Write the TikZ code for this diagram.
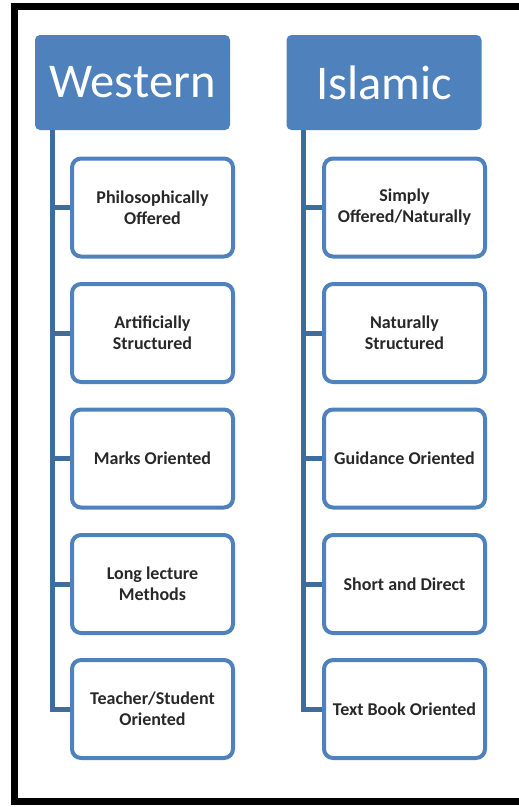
\documentclass[tikz,border=0pt]{standalone}
\usepackage{fontspec}
\setmainfont{Carlito}
\definecolor{hdrblue}{RGB}{79,129,189}
\definecolor{trunkblue}{RGB}{62,108,155}
\definecolor{itemtext}{RGB}{40,40,40}

\begin{document}
\begin{tikzpicture}[x=1pt,y=-1pt,
  header/.style={fill=hdrblue,rounded corners=5pt,minimum width=195pt,minimum height=95pt,
    text=white,font=\fontsize{48.5}{50}\selectfont},
  item/.style={draw=hdrblue,line width=4pt,fill=white,rounded corners=9pt,minimum width=161pt,
    minimum height=98pt,align=center,text=itemtext,font=\fontsize{18}{21}\selectfont\bfseries},
  trunk/.style={draw=trunkblue,line width=5pt}]
\useasboundingbox (0,0) rectangle (519,807);
% frame, open on the right
\draw[line width=7pt] (519,6.5) -- (14.5,6.5) -- (14.5,801.5) -- (519,801.5);

\node[header] (west) at (132.5,82.5) {Western};
\node[header] (isl) at (384,82.5) {Islamic};

\node[item] (w1) at (152.5,207.5) {Philosophically\\Offered};
\node[item] (w2) at (152.5,333) {Artificially\\Structured};
\node[item] (w3) at (152.5,458.5) {Marks Oriented};
\node[item] (w4) at (152.5,584) {Long lecture\\Methods};
\node[item] (w5) at (152.5,709) {Teacher/Student\\Oriented};

\node[item] (i1) at (404.5,207.5) {Simply\\Offered/Naturally};
\node[item] (i2) at (404.5,333) {Naturally\\Structured};
\node[item] (i3) at (404.5,458.5) {Guidance Oriented};
\node[item] (i4) at (404.5,584) {Short and Direct};
\node[item] (i5) at (404.5,709) {Text Book Oriented};

% trunks
\coordinate (wt) at ([xshift=18pt]west.south west);
\coordinate (it) at ([xshift=17pt]isl.south west);
\draw[trunk] (wt) |- (w5.west);
\draw[trunk] (it) |- (i5.west);
\foreach \k in {1,...,4} {
  \draw[trunk] (wt |- w\k.west) -- (w\k.west);
  \draw[trunk] (it |- i\k.west) -- (i\k.west);
}
\end{tikzpicture}
\end{document}
